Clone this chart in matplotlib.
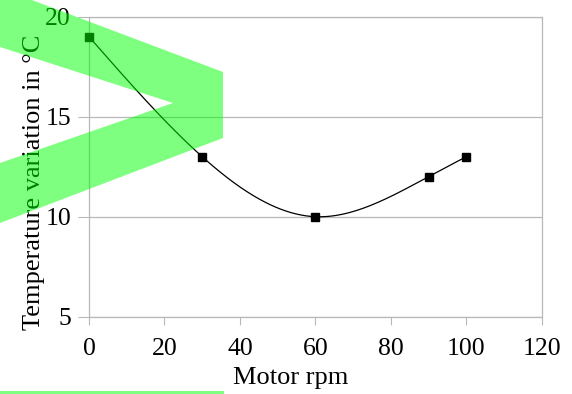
import matplotlib
matplotlib.use("Agg")
import matplotlib.pyplot as plt
import numpy as np
from matplotlib.patches import Polygon, Rectangle

# data
rpm = [0, 30, 60, 90, 100]
temp_var = [19, 13, 10, 12, 13]
xticks = [0, 20, 40, 60, 80, 100, 120]
yticks = [5, 10, 15, 20]

# green highlight shapes (figure pixels, origin top-left)
chevron = [(0, -12), (223, 72), (223, 138), (0, 223), (0, 163), (173, 103), (0, 47)]
bar = (0, 391, 224, 6)

def natural_spline(x, y, n=300):
    x = np.asarray(x, float)
    y = np.asarray(y, float)
    k = len(x)
    h = np.diff(x)
    A = np.zeros((k, k))
    b = np.zeros(k)
    A[0, 0] = 1
    A[-1, -1] = 1
    for i in range(1, k - 1):
        A[i, i - 1] = h[i - 1]
        A[i, i] = 2 * (h[i - 1] + h[i])
        A[i, i + 1] = h[i]
        b[i] = 6 * ((y[i + 1] - y[i]) / h[i] - (y[i] - y[i - 1]) / h[i - 1])
    M = np.linalg.solve(A, b)
    xs = np.linspace(x[0], x[-1], n)
    ys = np.empty_like(xs)
    for j, xv in enumerate(xs):
        i = min(np.searchsorted(x, xv, side="right") - 1, k - 2)
        t1 = x[i + 1] - xv
        t0 = xv - x[i]
        ys[j] = (M[i] * t1**3 + M[i + 1] * t0**3) / (6 * h[i]) \
            + (y[i] / h[i] - M[i] * h[i] / 6) * t1 \
            + (y[i + 1] / h[i] - M[i + 1] * h[i] / 6) * t0
    return xs, ys

plt.rcParams["font.family"] = "Liberation Serif"
W, H = 572, 394
fig = plt.figure(figsize=(W / 100, H / 100), dpi=100)
ax = fig.add_axes([89 / W, 1 - 316.7 / H, 452.7 / W, 300 / H])

gray = "#b8b8b8"
sx, sy = natural_spline(rpm, temp_var)
ax.plot(sx, sy, color="black", lw=0.9, zorder=3)
ax.plot(rpm, temp_var, "s", color="black", markersize=6, zorder=4, clip_on=False)

ax.set_xlim(0, 120)
ax.set_ylim(5, 20)
ax.set_xticks(xticks)
ax.set_yticks(yticks)
ax.tick_params(axis="both", labelsize=18.5, color=gray, direction="out")
ax.tick_params(axis="x", length=6, pad=9)
ax.tick_params(axis="y", length=8, pad=5)
ax.grid(True, axis="y", color=gray, lw=0.9)
for s in ax.spines.values():
    s.set_color(gray)
    s.set_linewidth(0.9)

ax.set_xlabel("Motor rpm", fontsize=19)
ax.xaxis.set_label_coords(0.4455, -0.169)
ax.set_ylabel("Temperature variation in °C", fontsize=19)
ax.yaxis.set_label_coords(-0.097, 0.449)

# overlay for the green highlight
ov = fig.add_axes([0, 0, 1, 1], zorder=10)
ov.set_xlim(0, W)
ov.set_ylim(H, 0)
ov.axis("off")
ov.patch.set_alpha(0)
ov.add_patch(Polygon(chevron, closed=True, facecolor=(0, 1, 0), alpha=0.5, lw=0))
ov.add_patch(Rectangle(bar[:2], bar[2], bar[3], facecolor=(0, 1, 0), alpha=0.5, lw=0))

fig.savefig("out.png", dpi=100)
